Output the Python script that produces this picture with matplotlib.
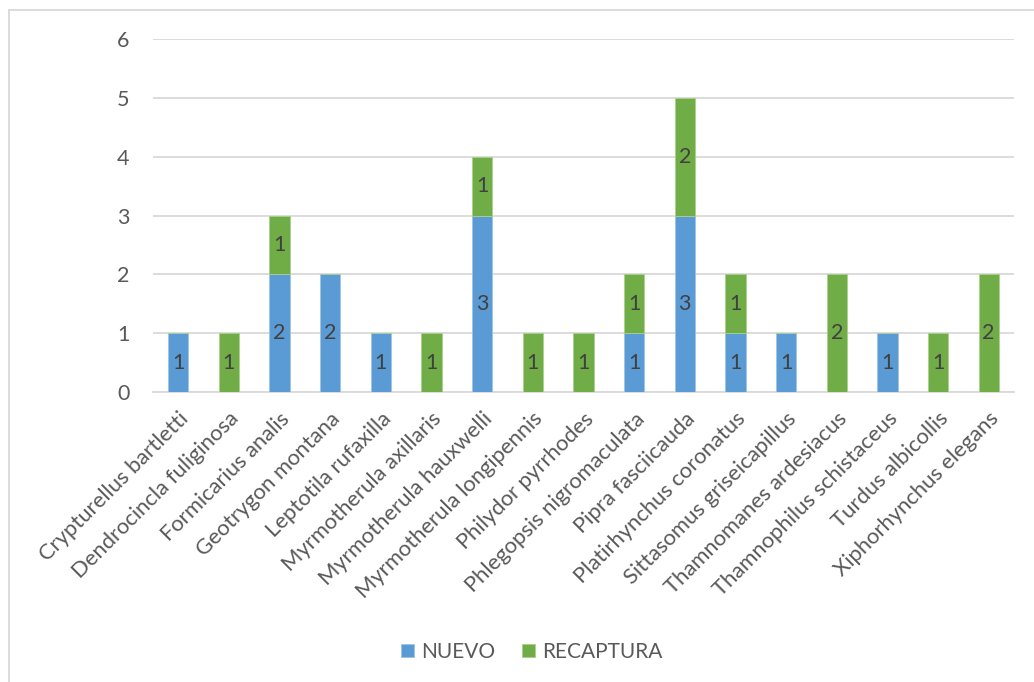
import matplotlib
matplotlib.use("Agg")
import matplotlib.pyplot as plt
from matplotlib.lines import Line2D
import numpy as np

categories = ["Crypturellus bartletti", "Dendrocincla fuliginosa", "Formicarius analis",
              "Geotrygon montana", "Leptotila rufaxilla", "Myrmotherula axillaris",
              "Myrmotherula hauxwelli", "Myrmotherula longipennis", "Philydor pyrrhodes",
              "Phlegopsis nigromaculata", "Pipra fasciicauda", "Platirhynchus coronatus",
              "Sittasomus griseicapillus", "Thamnomanes ardesiacus", "Thamnophilus schistaceus",
              "Turdus albicollis", "Xiphorhynchus elegans"]
nuevo = [1, 0, 2, 2, 1, 0, 3, 0, 0, 1, 3, 1, 1, 0, 1, 0, 0]
recaptura = [0, 1, 1, 0, 0, 1, 1, 1, 1, 1, 2, 1, 0, 2, 0, 1, 2]
yticks = [0, 1, 2, 3, 4, 5, 6]

plt.rcParams['font.family'] = ['Lato', 'DejaVu Sans']
blue = "#5B9BD5"
green = "#70AD47"
txt = "#595959"

fig = plt.figure(figsize=(10.34, 6.82), dpi=100)
ax = fig.add_axes([153/1034, 1-392/682, (1014-153)/1034, (392-39)/682])

x = np.arange(len(categories))
w = 0.4
b1 = ax.bar(x, nuevo, w, color=blue, edgecolor="#9DC3E6", linewidth=0.6, label="NUEVO", zorder=3)
b2 = ax.bar(x, recaptura, w, bottom=nuevo, color=green, edgecolor="#A9D18E", linewidth=0.6, label="RECAPTURA", zorder=3)

for i in range(len(categories)):
    if nuevo[i] > 0:
        ax.text(x[i], nuevo[i]/2, str(nuevo[i]), ha='center', va='center', fontsize=15.5, color="#404040", zorder=4)
    if recaptura[i] > 0:
        ax.text(x[i], nuevo[i] + recaptura[i]/2, str(recaptura[i]), ha='center', va='center', fontsize=15.5, color="#404040", zorder=4)

ax.set_xlim(-0.5, len(categories)-0.5)
ax.set_ylim(0, 6)
ax.set_yticks(yticks)
ax.set_yticklabels([str(v) for v in yticks], fontsize=15.5, color=txt)
ax.yaxis.grid(True, color="#d9d9d9", linewidth=1.3, zorder=0)
ax.set_axisbelow(True)
ax.tick_params(axis='both', length=0)
ax.tick_params(axis='y', pad=17)
for s in ['top', 'right', 'left']:
    ax.spines[s].set_visible(False)
ax.spines['bottom'].set_color("#d9d9d9")
ax.spines['bottom'].set_linewidth(1.3)

ax.set_xticks(x)
ax.set_xticklabels(categories, rotation=45, ha='right', va='top', rotation_mode='anchor',
                   fontsize=15.8, color=txt)
ax.tick_params(axis='x', pad=12)

fig.legend(handles=[b1, b2], labels=["NUEVO", "RECAPTURA"], loc='center',
           bbox_to_anchor=(532/1034, 1-652/682), ncol=2, frameon=False,
           fontsize=15, labelcolor=txt, handlelength=0.6, handleheight=0.6,
           handletextpad=0.35, columnspacing=1.3)

fig.add_artist(Line2D([9/1034, 9/1034], [0, 1-10/682], color="#d9d9d9", linewidth=1.3, transform=fig.transFigure))
fig.add_artist(Line2D([9/1034, 1], [1-10/682, 1-10/682], color="#d9d9d9", linewidth=1.3, transform=fig.transFigure))

fig.savefig("out.png", dpi=100, facecolor="white")
